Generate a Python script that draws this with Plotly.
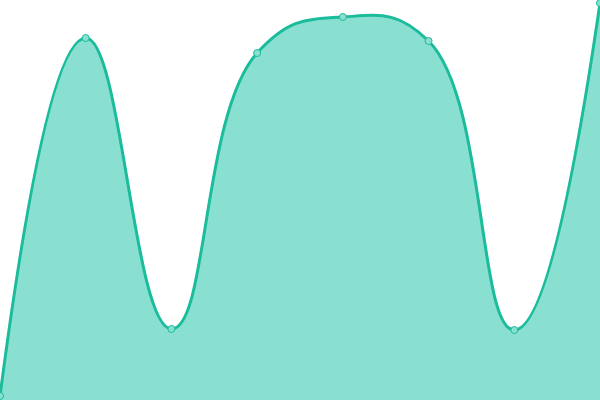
import plotly.graph_objects as go

# data (one point per slot, evenly spaced)
categories = [0, 1, 2, 3, 4, 5, 6, 7]
values = [4, 362, 71, 347, 383, 359, 70, 397]

fig = go.Figure()
fig.add_trace(
    go.Scatter(
        x=categories,
        y=values,
        mode="lines+markers",
        line=dict(color="#1abc9c", width=3, shape="spline", smoothing=1.3),
        fill="tozeroy",
        fillcolor="#89e0d0",
        marker=dict(size=7, color="#89e0d0", line=dict(color="#1abc9c", width=1)),
        cliponaxis=False,
        hoverinfo="x+y",
    )
)

fig.update_xaxes(visible=False, range=[0, 7])
fig.update_yaxes(visible=False, range=[0, 400])
fig.update_layout(
    width=600,
    height=400,
    margin=dict(l=0, r=0, t=0, b=0),
    paper_bgcolor="white",
    plot_bgcolor="white",
    showlegend=False,
)

# drop the browser's default body margin so the chart sits flush in the window
fig.write_html(
    "out.html",
    config={"displayModeBar": False},
    post_script="document.body.style.margin='0';document.body.style.overflow='hidden';",
)
